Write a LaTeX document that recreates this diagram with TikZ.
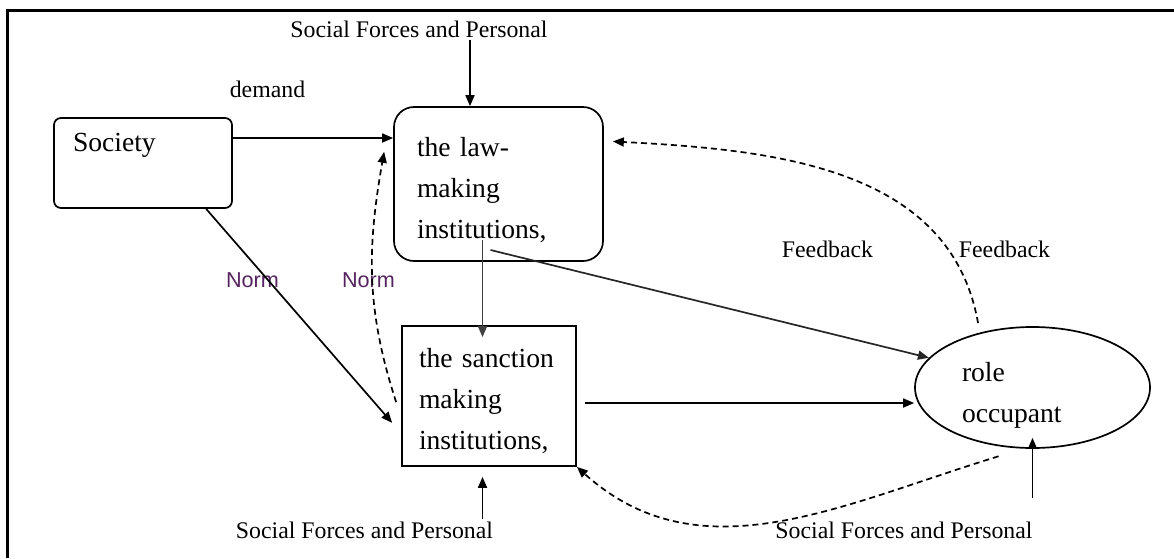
\documentclass[tikz,border=0pt]{standalone}
\usepackage{fontspec}
\setmainfont{Liberation Serif}
\newfontfamily\normfont{Liberation Sans}
\usetikzlibrary{arrows.meta,shapes.geometric}
\definecolor{normcol}{RGB}{85,35,95}

\tikzset{
    arr/.style={-{Triangle[length=5.5pt,width=4.5pt]}, line width=0.85pt},
    fback/.style={arr, dash pattern=on 3pt off 2pt},
    boxtext/.style={draw, line width=0.85pt, align=left,
        font=\fontsize{13.8}{20.5}\selectfont},
    labeltext/.style={inner sep=1pt, anchor=base,
        font=\fontsize{11.9}{14}\selectfont},
    normtext/.style={inner sep=1pt, anchor=base, text=normcol,
        font=\normfont\fontsize{10.8}{13}\selectfont},
}

\begin{document}
\begin{tikzpicture}[x=0.5pt, y=-0.5pt]
    \useasboundingbox (0,0) rectangle (1174,558);

    \draw[line width=1.5pt] (7,558) -- (7,10) -- (1174,10);

    \node[boxtext, rounded corners=3.5pt, minimum width=89pt, minimum height=45pt,
        text width=70pt, inner xsep=9.5pt] (society) at (143,163) {Society\\[-6pt]\strut};
    \node[boxtext, rounded corners=10pt, minimum width=104.5pt, minimum height=77pt,
        text width=81.5pt, inner xsep=11.5pt] (law) at (498.5,184) {\strut\\[-19pt]the law-\\making\\institutions,};
    \node[boxtext, minimum width=87pt, minimum height=70pt,
        text width=70pt, inner xsep=8.5pt] (sanction) at (489,396) {\strut\\[-20pt]the sanction\\making\\institutions,};
    \node[boxtext, ellipse, inner sep=0pt, minimum width=117.5pt, minimum height=60.5pt,
        text width=70.5pt] (role) at (1032.5,387.5) {\strut\\[-17pt]role\\occupant};

    \node[labeltext] (sfptop) at (419,37) {Social Forces and Personal};
    \node[labeltext] (sfpbot) at (364.5,538) {Social Forces and Personal};
    \node[labeltext] (sfpright) at (904,538) {Social Forces and Personal};
    \node[labeltext] (demand) at (267.5,97) {demand};
    \node[labeltext] (feedback1) at (827.5,257) {Feedback};
    \node[labeltext] (feedback2) at (1004.5,257) {Feedback};
    \node[normtext] (norm1) at (252.5,287) {Norm};
    \node[normtext] (norm2) at (368.5,287) {Norm};

    \coordinate (lawin) at ([xshift=-14.25pt]law.north);
    \coordinate (lawdrop) at ([shift={(-8pt,-28pt)}]law.center);
    \coordinate (lawout) at ([shift={(-4pt,-33pt)}]law.center);
    \coordinate (demandrow) at (0,138);
    \coordinate (outrow) at (0,403);

    \draw[arr] (sfptop.south -| lawin) -- (lawin);
    \draw[arr] (society.east |- demandrow) -- (law.west |- demandrow);
    \draw[arr] (society.-36) -- ([xshift=-4.5pt]sanction.197);
    \draw[fback] ([xshift=-2.5pt]sanction.184) to[out=108, in=260] ([xshift=-4.5pt]law.163);
    \draw[arr, black!75, shorten >=-6pt] (lawdrop) -- (lawdrop |- sanction.north);
    \draw[arr, black!85] (lawout) -- (role.164);
    \draw[arr, shorten <=4pt] (sanction.east |- outrow) -- (role.west |- outrow);
    \draw[fback] ([yshift=5pt]role.135) to[out=100, in=-3] ([xshift=4.5pt]law.22);
    \draw[fback] ([yshift=-5pt]role.240) to[out=197, in=-42] (sanction.south east);
    \draw[arr, shorten >=5pt] (sfpbot.north -| lawdrop) -- (sanction.south -| lawdrop);
    \draw[arr, shorten <=10.5pt, shorten >=-5.5pt] (sfpright.north -| role.south) -- (role.south);
\end{tikzpicture}
\end{document}
